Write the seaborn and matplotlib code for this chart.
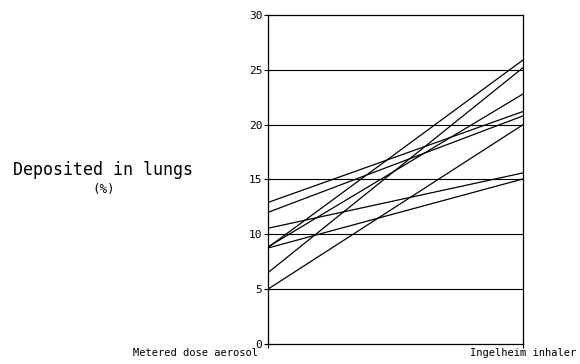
import numpy as np
import pandas as pd
import matplotlib
matplotlib.use('Agg')
import matplotlib.pyplot as plt
import matplotlib.transforms as mtransforms
import seaborn as sns

# Values (% deposited in lungs), one line per subject
devices      = ['Metered dose aerosol', 'Ingelheim inhaler']
mda_values   = [12.9, 12.0, 10.55, 8.8, 8.85, 8.75, 6.5, 5.0]
inhal_values = [21.2, 20.8, 15.6, 25.9, 22.8, 15.05, 25.2, 20.0]
y_ticks      = [0, 5, 10, 15, 20, 25, 30]

# long table for seaborn
rows = []
for i in range(len(mda_values)):
    rows.append({'subject': i, 'pos': 0, 'value': mda_values[i]})
    rows.append({'subject': i, 'pos': 1, 'value': inhal_values[i]})
df = pd.DataFrame(rows)

sns.set_style('white')
plt.rcParams['font.family'] = ['DejaVu Sans Mono', 'DejaVu Sans']
plt.rcParams['text.color'] = 'black'

fig = plt.figure(figsize=(5.8, 3.64), dpi=100)
ax = fig.add_axes([0.462, 0.055, 0.44, 0.904])

# horizontal grid lines
for t in y_ticks[1:-1]:
    ax.axhline(t, color='black', lw=0.8, zorder=1)

sns.lineplot(data=df, x='pos', y='value', units='subject', estimator=None,
             color='black', lw=0.9, ax=ax, legend=False, zorder=2)

ax.set_xlim(0, 1)
ax.set_ylim(0, 30)
ax.set_yticks(y_ticks)
ax.set_yticklabels([str(t) for t in y_ticks], fontsize=8)
ax.set_xticks([0, 1])
ax.set_xticklabels(devices, fontsize=7.5)
ax.set_xlabel('')
ax.set_ylabel('')

for s in ax.spines.values():
    s.set_color('black')
    s.set_linewidth(0.9)

ax.tick_params(axis='y', left=True, direction='inout', length=6, width=0.8, pad=1,
               colors='black')
ax.tick_params(axis='x', bottom=True, direction='inout', length=6, width=0.8, pad=0,
               colors='black')

# shift the device labels like in the original
lab_l, lab_r = ax.get_xticklabels()
lab_l.set_ha('right')
lab_l.set_transform(lab_l.get_transform() + mtransforms.ScaledTranslation(-10 / 100, 0, fig.dpi_scale_trans))
lab_r.set_ha('center')

fig.text(0.178, 0.533, 'Deposited in lungs', fontsize=12, ha='center', va='center')
fig.text(0.178, 0.479, '(%)', fontsize=9, ha='center', va='center')

fig.savefig('out.png', dpi=100)
